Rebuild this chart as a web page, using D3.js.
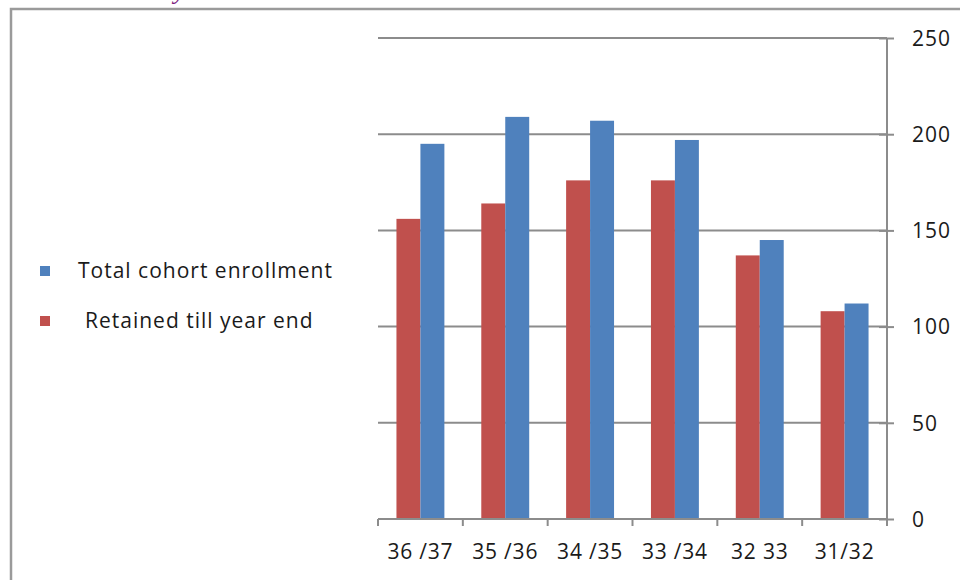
<!DOCTYPE html>
<html>
<head>
<meta charset="utf-8">
<script src="https://cdn.jsdelivr.net/npm/d3@7"></script>
<style>
  html, body { margin: 0; padding: 0; background: #fff; }
  svg { display: block; }
  text { font-family: "Open Sans", "Liberation Sans", sans-serif; fill: #1a1a1a; }
</style>
</head>
<body>
<svg id="chart" width="960" height="580"></svg>
<script>
const categories = ["36 /37", "35 /36", "34 /35", "33 /34", "32 33", "31/32"];
const seriesNames = ["Retained till year end", "Total cohort enrollment"];
const retained = [156, 164, 176, 176, 137, 108];
const total = [195, 209, 207, 197, 145, 112];
const yTicks = [0, 50, 100, 150, 200, 250];
const colors = { "Total cohort enrollment": "#4f81bd", "Retained till year end": "#c0504d" };

const svg = d3.select("#chart");

// outer frame
svg.append("path")
  .attr("d", "M11,590 L11,9 L970,9")
  .attr("fill", "none").attr("stroke", "#9a9a9a").attr("stroke-width", 2.5);

// clipped title fragment
svg.append("text").attr("x", 174).attr("y", -1)
  .style("font-family", "'Liberation Serif', serif").style("font-style", "italic")
  .style("font-size", "26px").style("fill", "#7b1a7e").text("y");

const pLeft = 378, pRight = 887, pTop = 38, pBottom = 519;
const x = d3.scaleBand().domain(categories).range([pLeft, pRight]).paddingInner(0).paddingOuter(0);
const y = d3.scaleLinear().domain([0, 250]).range([pBottom, pTop]);
const inner = d3.scaleBand().domain(seriesNames).range([0, x.bandwidth()]).paddingInner(0).paddingOuter(0.77);

// gridlines
svg.append("g").selectAll("line").data(yTicks.filter(t => t > 0)).join("line")
  .attr("x1", pLeft).attr("x2", pRight)
  .attr("y1", d => y(d)).attr("y2", d => y(d))
  .attr("stroke", "#8c8c8c").attr("stroke-width", 2);

// bars
const data = categories.map((c, i) => ({ c, vals: [
  { s: "Retained till year end", v: retained[i] },
  { s: "Total cohort enrollment", v: total[i] }
]}));
svg.append("g").selectAll("g").data(data).join("g")
  .attr("transform", d => `translate(${x(d.c)},0)`)
  .selectAll("rect").data(d => d.vals).join("rect")
  .attr("x", d => inner(d.s)).attr("width", inner.bandwidth())
  .attr("y", d => y(d.v)).attr("height", d => y(0) - y(d.v))
  .attr("fill", d => colors[d.s]);

// right y-axis
const yAxis = d3.axisRight(y).tickValues(yTicks).tickSize(7).tickPadding(18);
const ya = svg.append("g").attr("transform", `translate(${pRight},0)`).call(yAxis);
ya.select(".domain").attr("stroke", "#8c8c8c").attr("stroke-width", 2).attr("d", `M0,${pTop}V${pBottom + 7}`);
ya.selectAll(".tick line").attr("stroke", "#8c8c8c").attr("stroke-width", 2).attr("x1", -8).attr("x2", 7);
ya.selectAll(".tick text").style("font-size", "21px").style("fill", "#1a1a1a")
  .style("letter-spacing", "1px")
  .style("font-family", "'Open Sans', sans-serif").attr("dy", "0.35em");

// bottom x-axis
const xAxis = d3.axisBottom(x).tickSize(0).tickPadding(25);
const xa = svg.append("g").attr("transform", `translate(0,${pBottom})`).call(xAxis);
xa.select(".domain").attr("stroke", "#8c8c8c").attr("stroke-width", 2).attr("d", `M${pLeft},0H${pRight}`);
xa.selectAll(".tick text").style("font-size", "21px").style("fill", "#1a1a1a")
  .style("letter-spacing", "0.8px")
  .style("font-family", "'Open Sans', sans-serif");
const bounds = categories.map(c => x(c)).concat([pRight]);
xa.append("g").selectAll("line").data(bounds).join("line")
  .attr("x1", d => d).attr("x2", d => d).attr("y1", 0).attr("y2", 7)
  .attr("stroke", "#8c8c8c").attr("stroke-width", 2);

// legend
const legendItems = [
  { name: "Total cohort enrollment", label: "Total cohort enrollment", y: 271, tx: 78 },
  { name: "Retained till year end", label: "Retained till year end", y: 321, tx: 85 }
];
const lg = svg.append("g").selectAll("g").data(legendItems).join("g");
lg.append("rect").attr("x", 40).attr("y", d => d.y - 5).attr("width", 10).attr("height", 10)
  .attr("fill", d => colors[d.name]);
lg.append("text").attr("x", d => d.tx).attr("y", d => d.y).attr("dy", "0.35em")
  .style("font-size", "21px").style("letter-spacing", "1px")
  .text(d => d.label);
</script>
</body>
</html>
